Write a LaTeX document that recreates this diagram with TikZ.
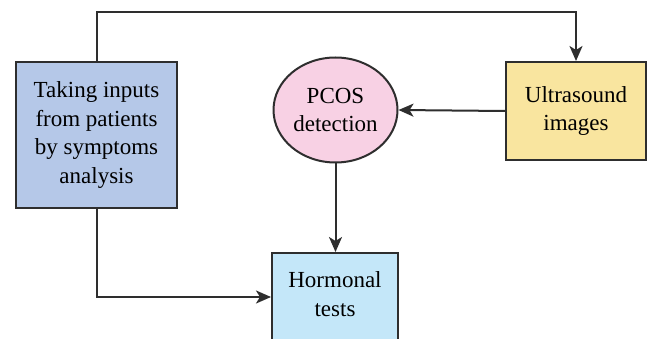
\documentclass[tikz,border=0pt]{standalone}
\usepackage{fontspec}
\setmainfont{Liberation Serif}
\usetikzlibrary{arrows.meta,shapes.geometric}
\definecolor{edgec}{HTML}{2E2E2E}
\definecolor{bluebox}{HTML}{B5C8E8}
\definecolor{pinkc}{HTML}{F8D1E4}
\definecolor{yellowbox}{HTML}{F9E59F}
\definecolor{lightblue}{HTML}{C4E7F9}
\tikzset{
  txt/.style={font=\fontsize{23}{28.5}\selectfont, text=black, align=center, inner sep=0pt},
  boxnode/.style={draw=edgec, line width=2pt, rectangle, txt},
  ellnode/.style={draw=edgec, line width=2pt, ellipse, txt},
  arr/.style={draw=edgec, line width=2pt, -{Stealth[length=15pt,width=13pt,inset=4pt]}},
}
\begin{document}
\begin{tikzpicture}[x=1pt,y=1pt]
\useasboundingbox (0,0) rectangle (655,-339);
\clip (0,0) rectangle (655,-339);
\fill[white] (0,0) rectangle (655,-339);
\node[boxnode, fill=bluebox, minimum width=161pt, minimum height=146pt] (left) at (96.5,-135)
  {Taking inputs\\from patients\\by symptoms\\analysis};
\node[ellnode, fill=pinkc, minimum width=124pt, minimum height=105pt] (pcos) at (335.5,-110)
  {PCOS\\detection};
\node[boxnode, fill=yellowbox, minimum width=140pt, minimum height=98pt] (us) at (576,-111)
  {Ultrasound\\images};
\node[boxnode, fill=lightblue, minimum width=126pt, minimum height=88pt] (horm) at (335,-297) {};
\node[txt] (hormtext) at (335,-294) {Hormonal\\tests};
\draw[arr] (left.north) -- ++(0,49) -| (us.north);
\draw[arr] (us.west) -- (pcos.east);
\draw[arr] (pcos.south) -- (horm.north -| pcos.south);
\draw[arr] (left.south) |- (horm.west);
\end{tikzpicture}
\end{document}
